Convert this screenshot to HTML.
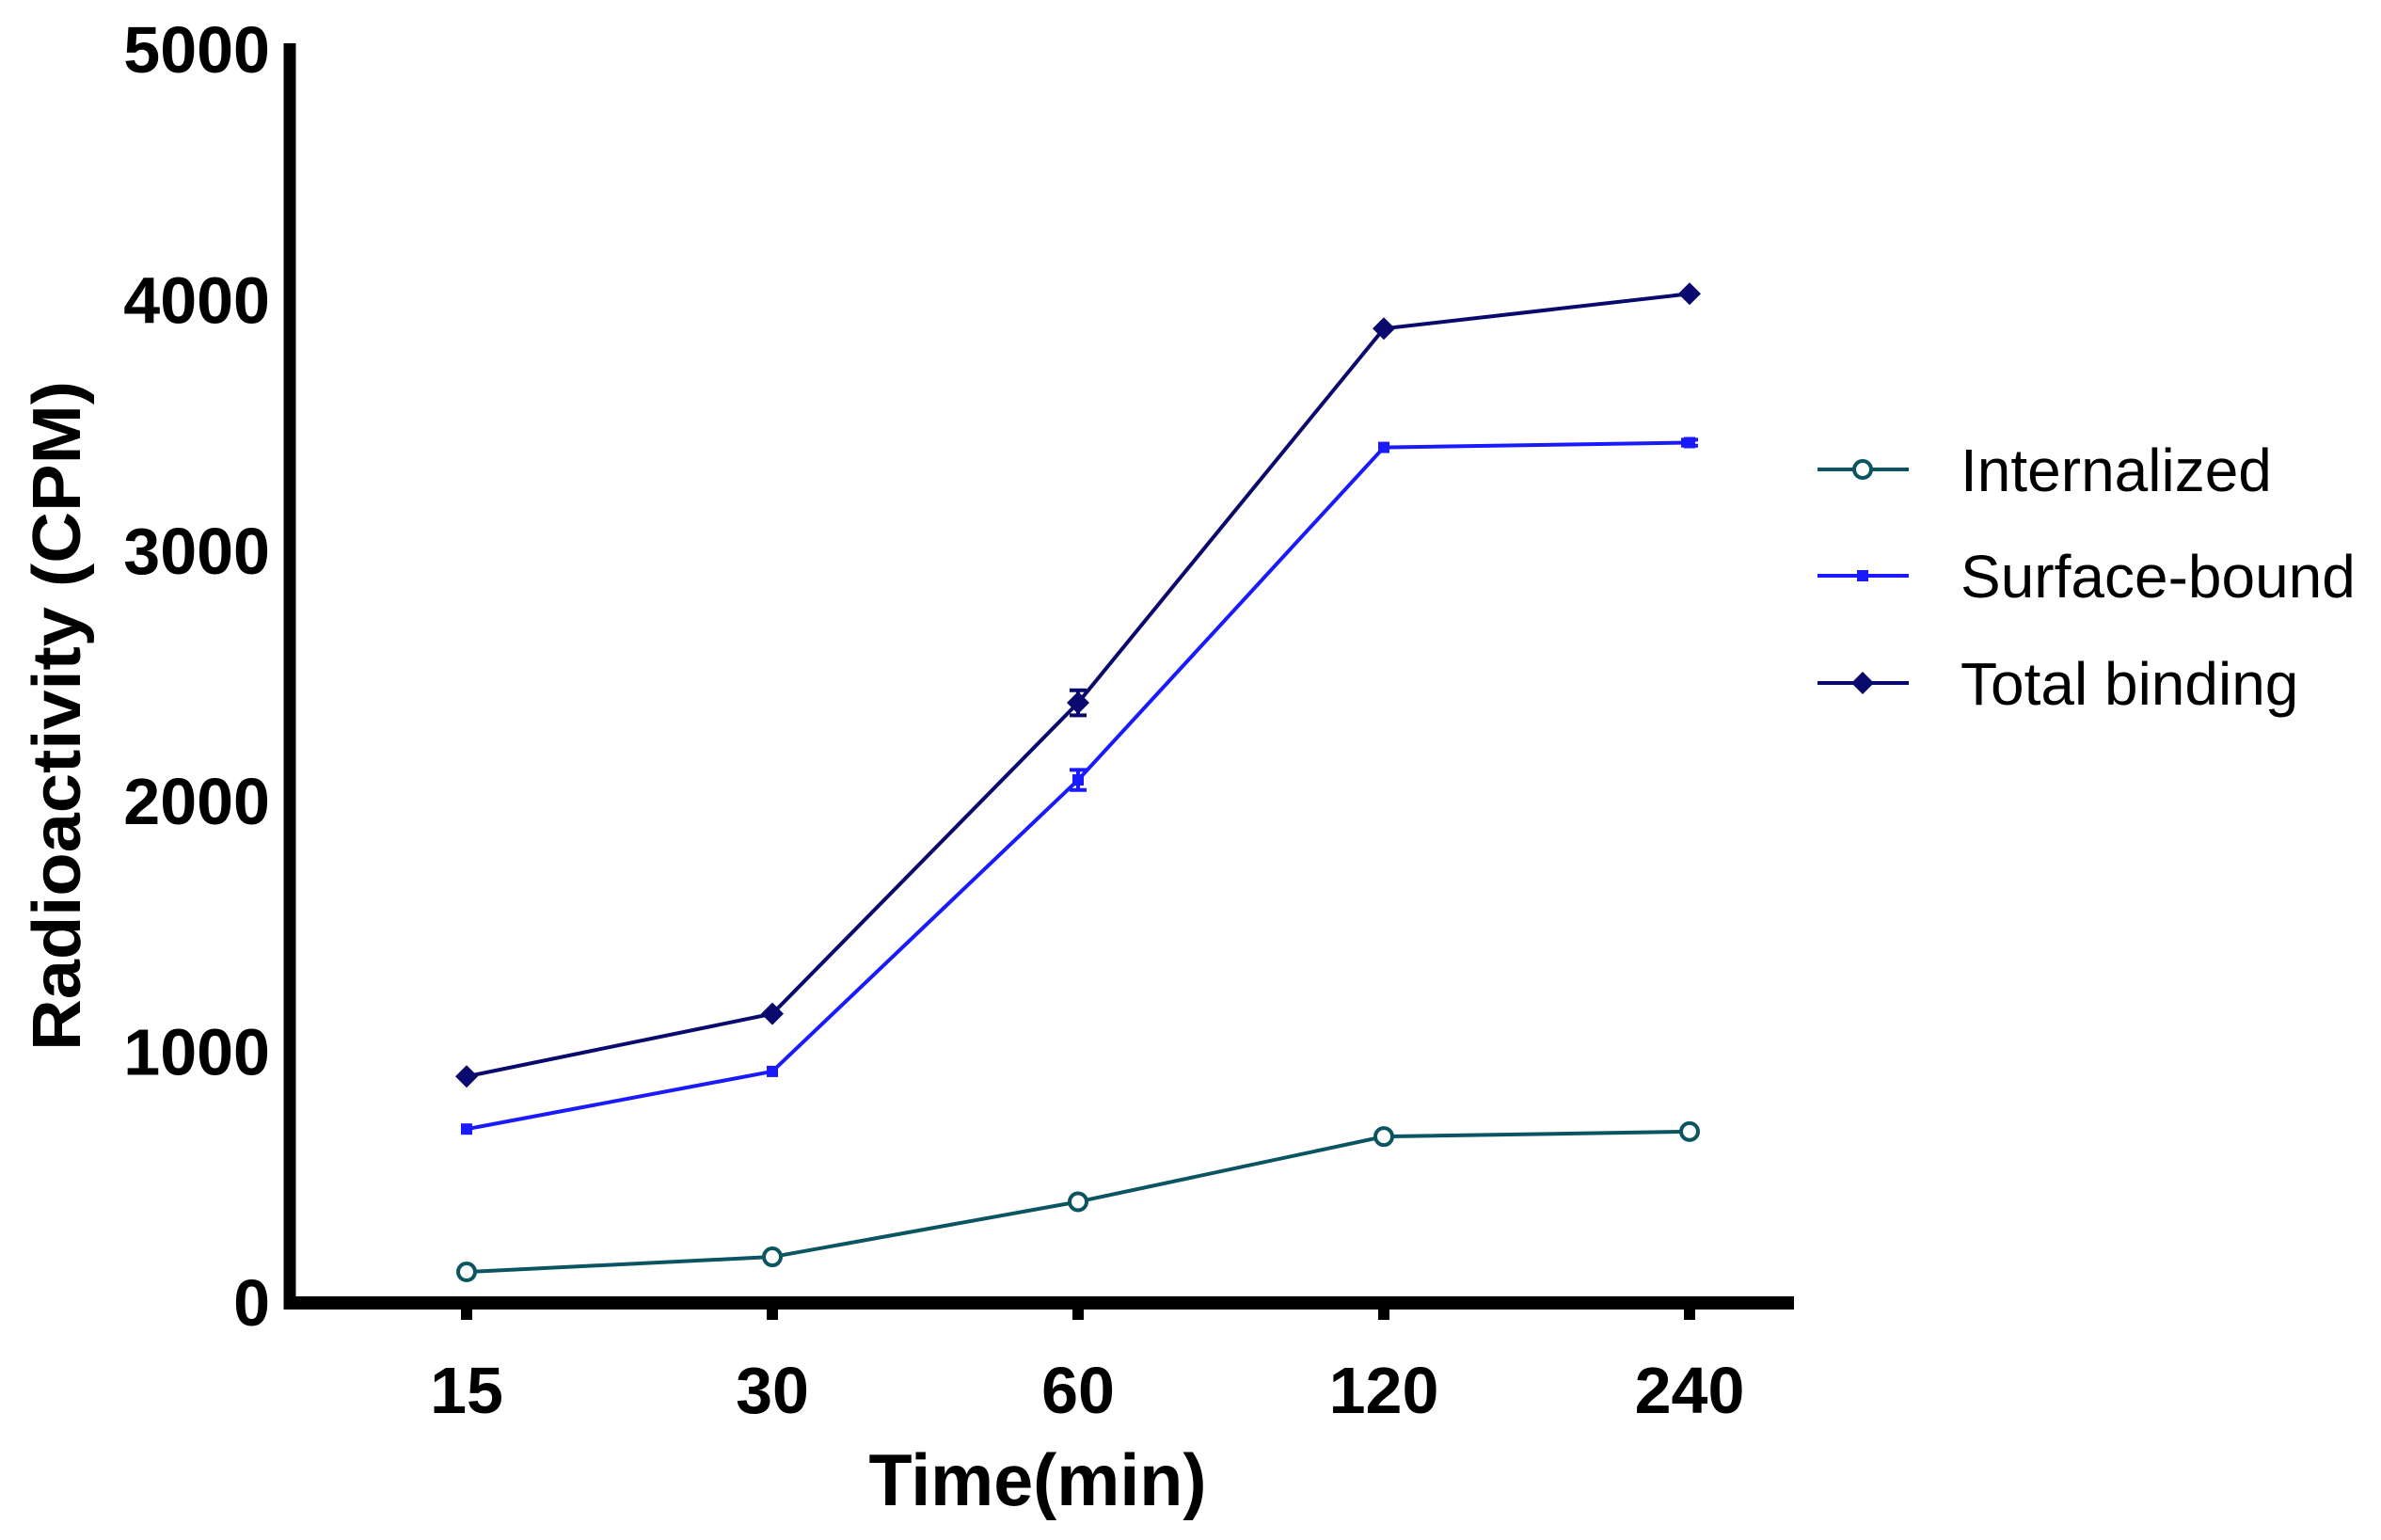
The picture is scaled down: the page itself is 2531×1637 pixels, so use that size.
<!DOCTYPE html>
<html><head><meta charset="utf-8"><style>
html,body{margin:0;padding:0;background:#fff;width:2531px;height:1637px;overflow:hidden}
text{font-family:"Liberation Sans",Arial,sans-serif}
</style></head><body>
<svg id="chart" width="2531" height="1637" viewBox="0 0 2531 1637" xmlns="http://www.w3.org/2000/svg">
<g id="axes"></g>
<g id="series"></g>
<g id="legend"></g>
</svg>
<script>
const categories = ["15","30","60","120","240"];
const yTicks = [0,1000,2000,3000,4000,5000];
const internalized = [120,180,400,660,680];
const internalizedErr = [0,0,0,0,0];
const surfaceBound = [690,920,2083,3410,3429];
const surfaceErr = [0,0,40,0,12];
const totalBinding = [900,1150,2391,3884,4023];
const totalErr = [0,0,50,0,0];
const seriesNames = ["Internalized","Surface-bound","Total binding"];

const NS="http://www.w3.org/2000/svg";
function mk(tag,attrs,parent){const e=document.createElementNS(NS,tag);for(const k in attrs)e.setAttribute(k,attrs[k]);parent.appendChild(e);return e;}
const y0=1384,yTop=52,x0=496,xStep=325;
function yScale(v){return y0-(v/5000)*(y0-yTop);}
function xScale(i){return x0+i*xStep;}
const axes=document.getElementById('axes');
let a=mk('line',{x1:308,y1:46,x2:308,y2:1392,stroke:'#000','stroke-width':13},axes);


a=mk('line',{x1:302,y1:1385,x2:1907,y2:1385,stroke:'#000','stroke-width':14},axes);


yTicks.forEach(v=>{
  const t=mk('text',{x:287,y:yScale(v)+25,'text-anchor':'end','font-size':70,'font-weight':'bold'},axes);
  t.textContent=v;
  
  
});
categories.forEach((c,i)=>{
  const tk=mk('line',{x1:xScale(i),y1:1390,x2:xScale(i),y2:1403,stroke:'#000','stroke-width':12},axes);
  
  
  const t=mk('text',{x:xScale(i),y:1502,'text-anchor':'middle','font-size':70,'font-weight':'bold'},axes);
  t.textContent=c;
  
  
});
let t=mk('text',{x:1103,y:1600,'text-anchor':'middle','font-size':78,'font-weight':'bold',textLength:359,lengthAdjust:'spacingAndGlyphs'},axes);
t.textContent='Time(min)';


t=mk('text',{x:0,y:0,'text-anchor':'middle','font-size':72,'font-weight':'bold',textLength:712,lengthAdjust:'spacingAndGlyphs',transform:'translate(85,761) rotate(-90)'},axes);
t.textContent='Radioactivity (CPM)';



const colors=['#0b5563','#1a1aff','#0a0a6e'];
const allVals=[internalized,surfaceBound,totalBinding];
const allErr=[internalizedErr,surfaceErr,totalErr];
function marker(kind,x,y,parent,col){
  let m;
  if(kind===0) m=mk('circle',{cx:x,cy:y,r:9,fill:'#fff',stroke:col,'stroke-width':4},parent);
  else if(kind===1) m=mk('rect',{x:x-6,y:y-6,width:12,height:12,fill:col},parent);
  else m=mk('polygon',{points:`${x},${y-12} ${x+12},${y} ${x},${y+12} ${x-12},${y}`,fill:col},parent);
  return m;
}
const sg=document.getElementById('series');
allVals.forEach((vals,s)=>{
  const g=mk('g',{},sg);
  
  
  const pts=vals.map((v,i)=>xScale(i)+','+yScale(v)).join(' ');
  const pl=mk('polyline',{points:pts,fill:'none',stroke:colors[s],'stroke-width':4},g);
  
  
  vals.forEach((v,i)=>{
    const e=allErr[s][i];
    if(e>0){
      const x=xScale(i),yh=yScale(v+e),yl=yScale(v-e);
      const eb=mk('path',{d:`M${x},${yh}V${yl}M${x-9},${yh}H${x+9}M${x-9},${yl}H${x+9}`,stroke:colors[s],'stroke-width':4,fill:'none'},g);
      
      
    }
    const m=marker(s,xScale(i),yScale(v),g,colors[s]);
    
    
  });
});
const lg=document.getElementById('legend');
const ly=[499,612,726];
seriesNames.forEach((n,s)=>{
  const g=mk('g',{},lg);
  
  
  mk('line',{x1:1932,y1:ly[s],x2:2029,y2:ly[s],stroke:colors[s],'stroke-width':4},g);
  marker(s,1980,ly[s],g,colors[s]);
  const tt=mk('text',{x:2084,y:ly[s]+23,'font-size':64},g);
  tt.textContent=n;
});
</script>
</body></html>
